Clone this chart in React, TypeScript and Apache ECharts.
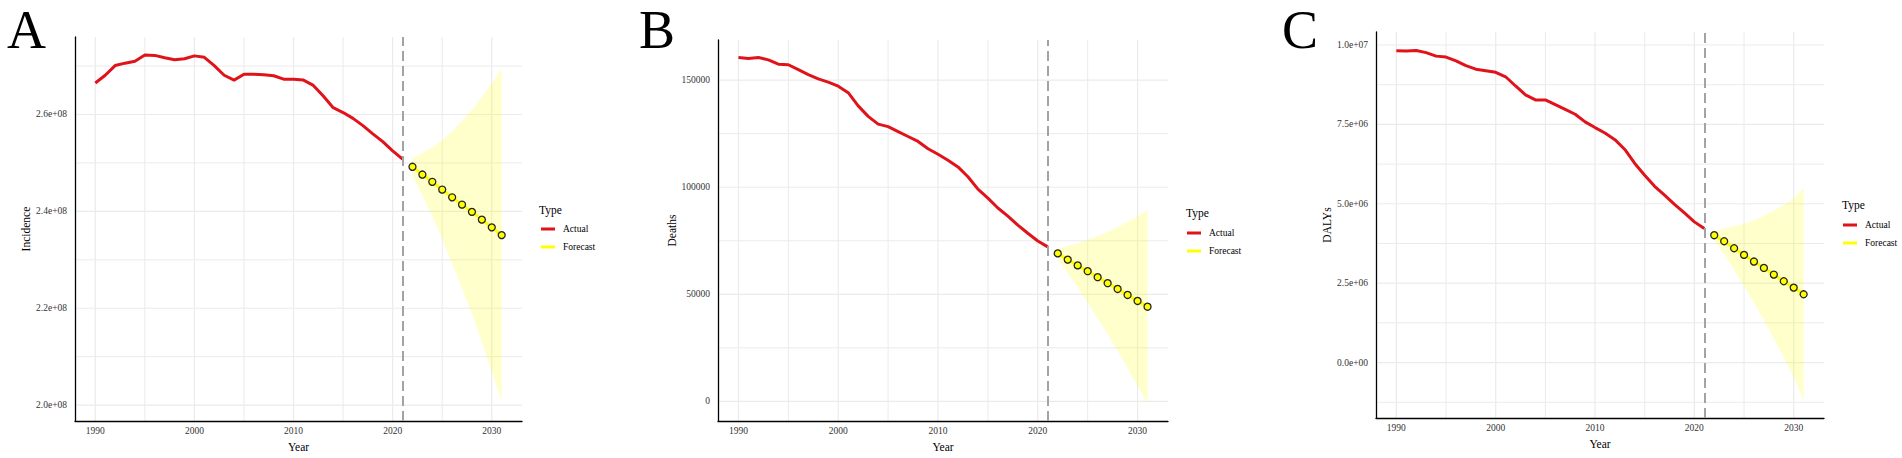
import React, { useEffect, useRef } from "react";
import * as echarts from "echarts";

const FONT = "'Liberation Serif', 'Times New Roman', serif";

// ---------- data ----------
const actualYears = [
  1990, 1991, 1992, 1993, 1994, 1995, 1996, 1997, 1998, 1999, 2000, 2001, 2002, 2003, 2004, 2005,
  2006, 2007, 2008, 2009, 2010, 2011, 2012, 2013, 2014, 2015, 2016, 2017, 2018, 2019, 2020, 2021,
];
const forecastYears = [2022, 2023, 2024, 2025, 2026, 2027, 2028, 2029, 2030, 2031];

const incidenceActual = [
  2.665e8, 2.681e8, 2.701e8, 2.706e8, 2.71e8, 2.723e8, 2.722e8, 2.717e8, 2.713e8, 2.715e8, 2.721e8,
  2.718e8, 2.701e8, 2.681e8, 2.671e8, 2.683e8, 2.683e8, 2.682e8, 2.68e8, 2.673e8, 2.673e8, 2.671e8,
  2.66e8, 2.638e8, 2.614e8, 2.604e8, 2.592e8, 2.577e8, 2.56e8, 2.544e8, 2.525e8, 2.508e8,
];
const incidenceForecast = [2.492e8, 2.476e8, 2.461e8, 2.445e8, 2.429e8, 2.414e8, 2.399e8, 2.383e8, 2.367e8, 2.351e8];
const incidenceUpper = [2.51e8, 2.52e8, 2.532e8, 2.547e8, 2.565e8, 2.587e8, 2.61e8, 2.636e8, 2.664e8, 2.695e8];
const incidenceLower = [2.474e8, 2.432e8, 2.39e8, 2.343e8, 2.293e8, 2.241e8, 2.188e8, 2.13e8, 2.07e8, 2.007e8];

const deathsActual = [
  160600, 160150, 160600, 159500, 157500, 157200, 154900, 152600, 150600, 149100, 147200, 144150,
  138000, 133100, 129500, 128300, 126000, 123700, 121400, 118000, 115400, 112600, 109500, 104900,
  99100, 94900, 90300, 86500, 82300, 78500, 74900, 72150,
];
const deathsForecast = [69100, 66200, 63500, 60800, 58000, 55200, 52500, 49700, 46900, 44200];
const deathsUpper = [71400, 72500, 73800, 75400, 77200, 79200, 81400, 83800, 86500, 89500];
const deathsLower = [66800, 59900, 53200, 46200, 38800, 31200, 23600, 15600, 7300, -1100];

const dalysActual = [
  9.82e6, 9.81e6, 9.83e6, 9.76e6, 9.65e6, 9.62e6, 9.5e6, 9.35e6, 9.24e6, 9.19e6, 9.14e6, 9.0e6,
  8.71e6, 8.43e6, 8.27e6, 8.27e6, 8.12e6, 7.97e6, 7.82e6, 7.58e6, 7.4e6, 7.23e6, 7.02e6, 6.71e6,
  6.27e6, 5.9e6, 5.55e6, 5.27e6, 4.98e6, 4.71e6, 4.43e6, 4.22e6,
];
const dalysForecast = [4.01e6, 3.82e6, 3.6e6, 3.39e6, 3.18e6, 2.98e6, 2.77e6, 2.56e6, 2.36e6, 2.15e6];
const dalysUpper = [4.16e6, 4.22e6, 4.29e6, 4.37e6, 4.48e6, 4.62e6, 4.79e6, 4.96e6, 5.17e6, 5.5e6];
const dalysLower = [3.86e6, 3.42e6, 2.91e6, 2.41e6, 1.88e6, 1.34e6, 0.75e6, 0.16e6, -0.45e6, -1.2e6];

const xTicks = [1990, 2000, 2010, 2020, 2030];
const xMinorGrid = [1995, 2005, 2015, 2025];
const forecastStartLine = 2021;

const incidenceTicks = [2.0e8, 2.2e8, 2.4e8, 2.6e8];
const incidenceTickLabels = ["2.0e+08", "2.2e+08", "2.4e+08", "2.6e+08"];
const incidenceMinor = [2.1e8, 2.3e8, 2.5e8, 2.7e8];

const deathsTicks = [0, 50000, 100000, 150000];
const deathsTickLabels = ["0", "50000", "100000", "150000"];
const deathsMinor = [25000, 75000, 125000];

const dalysTicks = [0, 2.5e6, 5.0e6, 7.5e6, 1.0e7];
const dalysTickLabels = ["0.0e+00", "2.5e+06", "5.0e+06", "7.5e+06", "1.0e+07"];
const dalysMinor = [-1.25e6, 1.25e6, 3.75e6, 6.25e6, 8.75e6];

const legendNames = ["Actual", "Forecast"];
const legendTitle = "Type";
const xTitle = "Year";

// ---------- styles ----------
const RED = "#e0131b";
const YELLOW = "#ffff00";
const BAND = "rgba(255,255,0,0.2)";
const GRID = "#ebebeb";

const panels = [
  {
    letter: "A", letterX: 7, letterY: 30,
    grid: { left: 75, top: 37, width: 447, height: 385 },
    xMin: 1987.95, xMax: 2033.05, yMin: 1.967e8, yMax: 2.76e8,
    yName: "Incidence", yNameGap: 43,
    ticks: incidenceTicks, tickLabels: incidenceTickLabels, minor: incidenceMinor,
    actual: incidenceActual, fc: incidenceForecast, up: incidenceUpper, lo: incidenceLower,
    legendLeft: 541, legendTop: 223, typeX: 539, typeY: 210,
  },
  {
    letter: "B", letterX: 639, letterY: 30,
    grid: { left: 718, top: 40, width: 450, height: 386 },
    xMin: 1987.95, xMax: 2033.05, yMin: -9222, yMax: 168770,
    yName: "Deaths", yNameGap: 40,
    ticks: deathsTicks, tickLabels: deathsTickLabels, minor: deathsMinor,
    actual: deathsActual, fc: deathsForecast, up: deathsUpper, lo: deathsLower,
    legendLeft: 1187, legendTop: 227, typeX: 1186, typeY: 213,
  },
  {
    letter: "C", letterX: 1282, letterY: 30,
    grid: { left: 1376, top: 32, width: 448, height: 386 },
    xMin: 1987.95, xMax: 2033.05, yMin: -1.747e6, yMax: 1.041e7,
    yName: "DALYs", yNameGap: 42,
    ticks: dalysTicks, tickLabels: dalysTickLabels, minor: dalysMinor,
    actual: dalysActual, fc: dalysForecast, up: dalysUpper, lo: dalysLower,
    legendLeft: 1843, legendTop: 219, typeX: 1842, typeY: 205,
  },
];

function buildOption() {
  const grid: any[] = [];
  const xAxis: any[] = [];
  const yAxis: any[] = [];
  const series: any[] = [];
  const legend: any[] = [];
  const graphic: any[] = [];

  panels.forEach((p, i) => {
    grid.push({ ...p.grid, containLabel: false });
    xAxis.push({
      type: "value",
      gridIndex: i,
      min: p.xMin,
      max: p.xMax,
      name: xTitle,
      nameLocation: "middle",
      nameGap: 16,
      nameTextStyle: { fontFamily: FONT, fontSize: 11.5, color: "#000" },
      axisLine: { show: true, onZero: false, lineStyle: { color: "#000", width: 1.3 } },
      axisTick: { show: false },
      splitLine: { show: false },
      axisLabel: {
        customValues: xTicks,
        margin: 5,
        fontFamily: FONT,
        fontSize: 9.5,
        color: "#333",
        formatter: (v: number) => String(Math.round(v)),
      },
    });
    yAxis.push({
      type: "value",
      gridIndex: i,
      min: p.yMin,
      max: p.yMax,
      name: p.yName,
      nameLocation: "middle",
      nameGap: p.yNameGap,
      nameTextStyle: { fontFamily: FONT, fontSize: 11.5, color: "#000" },
      axisLine: { show: true, onZero: false, lineStyle: { color: "#000", width: 1.3 } },
      axisTick: { show: false },
      splitLine: { show: false },
      axisLabel: {
        customValues: p.ticks,
        margin: 8,
        fontFamily: FONT,
        fontSize: 9.5,
        color: "#333",
        formatter: (v: number) => {
          const k = p.ticks.findIndex((t) => Math.abs(t - v) < 1e-6 * Math.max(1, Math.abs(t)));
          return k >= 0 ? p.tickLabels[k] : "";
        },
      },
    });

    // gridlines: [x, y, orientation(0=vertical,1=horizontal), width]
    const gridData: any[] = [];
    xTicks.forEach((v) => gridData.push([v, p.yMin, 0, 1.2]));
    xMinorGrid.forEach((v) => gridData.push([v, p.yMin, 0, 1]));
    p.ticks.forEach((v) => gridData.push([p.xMin, v, 1, 1.2]));
    p.minor.forEach((v) => gridData.push([p.xMin, v, 1, 1]));
    series.push({
      type: "custom",
      name: "grid" + i,
      xAxisIndex: i,
      yAxisIndex: i,
      silent: true,
      z: 0,
      encode: { x: 0, y: 1 },
      data: gridData,
      renderItem: (params: any, api: any) => {
        const cs = params.coordSys;
        const pt = api.coord([api.value(0), api.value(1)]);
        const w = api.value(3);
        if (api.value(2) === 0) {
          return {
            type: "line",
            shape: { x1: pt[0], y1: cs.y, x2: pt[0], y2: cs.y + cs.height },
            style: { stroke: GRID, lineWidth: w },
          };
        }
        return {
          type: "line",
          shape: { x1: cs.x, y1: pt[1], x2: cs.x + cs.width, y2: pt[1] },
          style: { stroke: GRID, lineWidth: w },
        };
      },
    });

    // confidence band
    series.push({
      type: "custom",
      name: "band" + i,
      xAxisIndex: i,
      yAxisIndex: i,
      silent: true,
      z: 1,
      encode: { x: 0, y: [1, 2] },
      data: forecastYears.map((y, k) => [y, p.up[k], p.lo[k]]),
      renderItem: (params: any, api: any) => {
        if (params.dataIndex !== 0) return null;
        const pts: number[][] = [];
        forecastYears.forEach((y, k) => pts.push(api.coord([y, p.up[k]])));
        for (let k = forecastYears.length - 1; k >= 0; k--) pts.push(api.coord([forecastYears[k], p.lo[k]]));
        return { type: "polygon", shape: { points: pts }, style: { fill: BAND } };
      },
    });

    series.push({
      type: "line",
      name: "Actual",
      xAxisIndex: i,
      yAxisIndex: i,
      z: 3,
      showSymbol: false,
      symbol: "none",
      smooth: false,
      data: actualYears.map((y, k) => [y, p.actual[k]]),
      lineStyle: { color: RED, width: 3 },
      itemStyle: { color: RED },
      markLine: {
        silent: true,
        symbol: "none",
        label: { show: false },
        lineStyle: { type: [10, 5], color: "#a3a3a3", width: 2 },
        data: [{ xAxis: forecastStartLine }],
      },
    });

    series.push({
      type: "line",
      name: "Forecast",
      xAxisIndex: i,
      yAxisIndex: i,
      z: 4,
      symbol: "circle",
      symbolSize: 7,
      showSymbol: true,
      data: forecastYears.map((y, k) => [y, p.fc[k]]),
      lineStyle: { color: YELLOW, width: 3 },
      itemStyle: { color: YELLOW, borderColor: "#222", borderWidth: 1.3 },
    });

    legend.push({
      orient: "vertical",
      left: p.legendLeft,
      top: p.legendTop,
      selectedMode: false,
      icon: "rect",
      itemWidth: 14,
      itemHeight: 3,
      itemGap: 6,
      padding: 0,
      itemStyle: { borderWidth: 0 },
      textStyle: { fontFamily: FONT, fontSize: 9.5, color: "#000", lineHeight: 12, padding: [0, 0, 0, 3] },
      data: [
        { name: legendNames[0], itemStyle: { color: RED, borderWidth: 0 } },
        { name: legendNames[1], itemStyle: { color: YELLOW, borderWidth: 0 } },
      ],
    });

    graphic.push({
      type: "text",
      x: p.letterX,
      y: p.letterY,
      style: {
        text: p.letter,
        fontFamily: FONT,
        fontSize: 54,
        fill: "#000",
        textAlign: "left",
        verticalAlign: "middle",
      },
      silent: true,
    });
    graphic.push({
      type: "text",
      x: p.typeX,
      y: p.typeY,
      style: {
        text: legendTitle,
        fontFamily: FONT,
        fontSize: 11.5,
        fill: "#000",
        textAlign: "left",
        verticalAlign: "middle",
      },
      silent: true,
    });
  });

  return {
    animation: false,
    backgroundColor: "#fff",
    grid,
    xAxis,
    yAxis,
    series,
    legend,
    graphic,
  };
}

export default function App() {
  const ref = useRef<HTMLDivElement>(null);
  useEffect(() => {
    document.body.style.margin = "0";
    if (!ref.current) return;
    const chart = echarts.init(ref.current, undefined, { renderer: "svg" });
    chart.setOption(buildOption() as any);
    return () => chart.dispose();
  }, []);
  return <div ref={ref} style={{ width: 1902, height: 458 }} />;
}
